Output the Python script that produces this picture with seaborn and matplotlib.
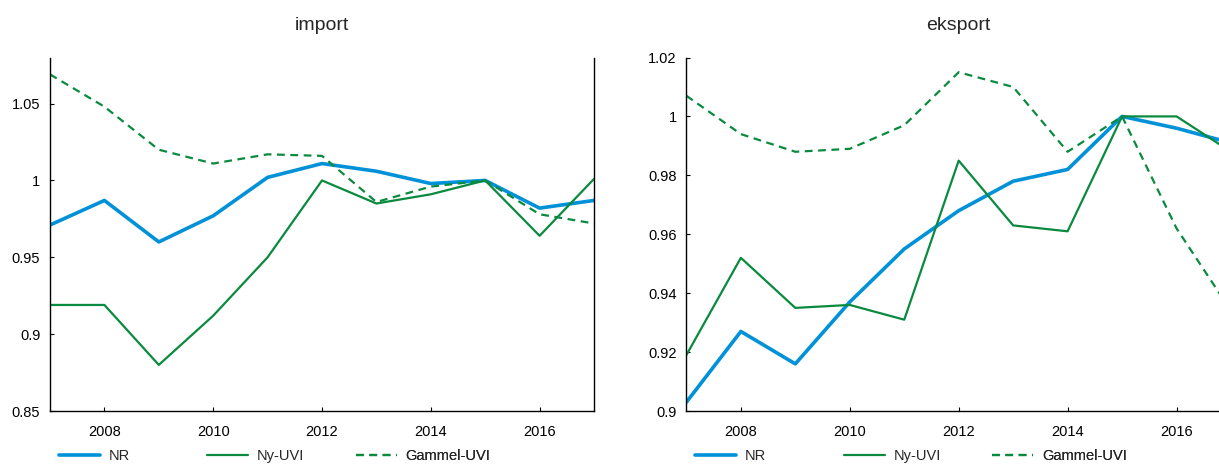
import seaborn as sns
import matplotlib.pyplot as plt
import pandas as pd

sns.set_style("white")
plt.rcParams['font.family'] = ['Liberation Sans', 'DejaVu Sans']

years = list(range(2007, 2018))

# import
imp_nr = [0.971, 0.987, 0.960, 0.977, 1.002, 1.011, 1.006, 0.998, 1.000, 0.982, 0.987]
imp_ny = [0.919, 0.919, 0.880, 0.912, 0.950, 1.000, 0.985, 0.991, 1.000, 0.964, 1.001]
imp_gammel = [1.069, 1.048, 1.020, 1.011, 1.017, 1.016, 0.986, 0.996, 1.000, 0.978, 0.972]

# eksport
eks_nr = [0.903, 0.927, 0.916, 0.937, 0.955, 0.968, 0.978, 0.982, 1.000, 0.996, 0.991]
eks_ny = [0.919, 0.952, 0.935, 0.936, 0.931, 0.985, 0.963, 0.961, 1.000, 1.000, 0.988]
eks_gammel = [1.007, 0.994, 0.988, 0.989, 0.997, 1.015, 1.010, 0.988, 1.000, 0.962, 0.934]

series_names = ['NR', 'Ny-UVI', 'Gammel-UVI']
blue = '#0091d9'
green = '#0a8a3e'

fig = plt.figure(figsize=(12.19, 4.65), dpi=100)
W, H = 1219, 465
ax1 = fig.add_axes([50 / W, 1 - 411 / H, 544 / W, 353.5 / H])
ax2 = fig.add_axes([686.4 / W, 1 - 411 / H, 544.6 / W, 353.5 / H])


def draw(ax, nr, ny, gammel, title, ylim, yticks, ylabels):
    df = pd.DataFrame({'year': years, 'NR': nr, 'Ny-UVI': ny, 'Gammel-UVI': gammel})
    sns.lineplot(data=df, x='year', y='NR', ax=ax, color=blue, lw=2.6)
    sns.lineplot(data=df, x='year', y='Ny-UVI', ax=ax, color=green, lw=1.6)
    sns.lineplot(data=df, x='year', y='Gammel-UVI', ax=ax, color=green, lw=1.6,
                 dashes=False, linestyle=(0, (3.5, 2.5)))
    ax.set_xlim(2007, 2017)
    ax.set_ylim(*ylim)
    ax.set_xticks([2008, 2010, 2012, 2014, 2016])
    ax.set_yticks(yticks)
    ax.set_yticklabels(ylabels)
    ax.set_xlabel('')
    ax.set_ylabel('')
    ax.tick_params(axis='x', direction='in', length=3, width=0.8, pad=10,
                   labelsize=10.5, colors='black', bottom=True)
    ax.tick_params(axis='y', direction='in', length=3, width=0.8, pad=7,
                   labelsize=10.5, colors='black', left=True)
    for s in ax.spines.values():
        s.set_color('black')
        s.set_linewidth(1.0)
    ax.spines['top'].set_visible(False)
    ax.set_title(title, fontsize=14, pad=20)

    lines = ax.get_lines()
    for i, (ln, name) in enumerate(zip(lines, series_names)):
        leg = ax.legend([ln], [name], loc='center left',
                        bbox_to_anchor=(0.016 + i * 0.273, -0.128),
                        frameon=False, borderpad=0, borderaxespad=0,
                        handlelength=2.8, handletextpad=0.6, fontsize=10.5)
        ax.add_artist(leg)


draw(ax1, imp_nr, imp_ny, imp_gammel, 'import', (0.85, 1.08),
     [0.85, 0.9, 0.95, 1.0, 1.05], ['0.85', '0.9', '0.95', '1', '1.05'])
draw(ax2, eks_nr, eks_ny, eks_gammel, 'eksport', (0.9, 1.02),
     [0.9, 0.92, 0.94, 0.96, 0.98, 1.0, 1.02],
     ['0.9', '0.92', '0.94', '0.96', '0.98', '1', '1.02'])

fig.savefig('out.png', dpi=100)
